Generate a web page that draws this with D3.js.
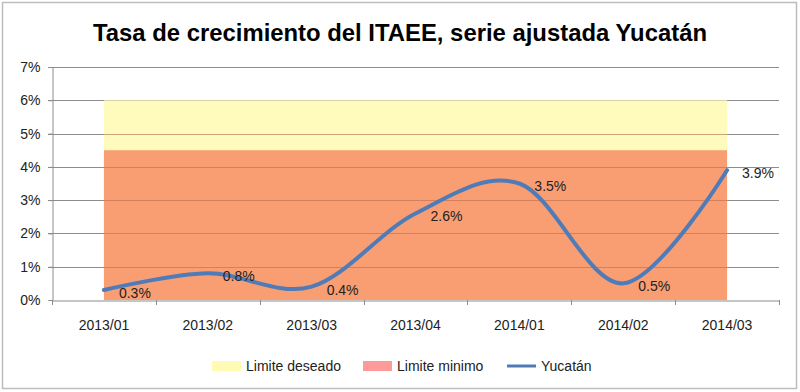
<!DOCTYPE html>
<html>
<head>
<meta charset="utf-8">
<script src="https://cdn.jsdelivr.net/npm/d3@7"></script>
<style>
html,body{margin:0;padding:0;background:#fff;}
svg text{font-family:"Liberation Sans",Arial,sans-serif;}
</style>
</head>
<body>
<svg id="chart" width="800" height="392"></svg>
<script>
const title = "Tasa de crecimiento del ITAEE, serie ajustada Yucatán";
const categories = ["2013/01","2013/02","2013/03","2013/04","2014/01","2014/02","2014/03"];
const yucatan = [0.3, 0.8, 0.4, 2.6, 3.5, 0.5, 3.9];
const limiteDeseado = [6, 6, 6, 6, 6, 6, 6];
const limiteMinimo = [4.5, 4.5, 4.5, 4.5, 4.5, 4.5, 4.5];
const yTicks = [0, 1, 2, 3, 4, 5, 6, 7];
const legendNames = ["Limite deseado", "Limite minimo", "Yucatán"];

const svg = d3.select("#chart");
const W = 800, H = 392;
const FS = 14;
const m = {left: 52, right: 21, top: 67, bottom: 92};
const x = d3.scaleBand().domain(categories).range([m.left, W - m.right]);
const y = d3.scaleLinear().domain([0, 7]).range([H - m.bottom, m.top]);
const cx = c => x(c) + x.bandwidth() / 2;

// outer border
svg.append("rect").attr("x", 2.5).attr("y", 2.5).attr("width", 794).attr("height", 386)
  .attr("fill", "#fff").attr("stroke", "#bdbdbd").attr("stroke-width", 1.5);

// title
const t = svg.append("text").attr("x", 400).attr("y", 41).attr("text-anchor", "middle")
  .attr("font-size", 23).attr("font-weight", "bold").attr("fill", "#000").text(title);
const tl = t.node().getComputedTextLength();
if (tl > 0) t.attr("font-size", 23 * 614 / tl);

// gridlines
svg.append("g").selectAll("line").data(yTicks.filter(d => d > 0)).join("line")
  .attr("x1", m.left - 4).attr("x2", W - m.right)
  .attr("y1", d => Math.round(y(d)) + 0.5).attr("y2", d => Math.round(y(d)) + 0.5)
  .attr("stroke", "#8c8c8c").attr("stroke-width", 1);

// bands (areas)
const bandArea = d3.area().x((d, i) => cx(categories[i])).y0(y(0)).y1(d => y(d));
svg.append("path").datum(limiteDeseado).attr("d", bandArea)
  .attr("fill", "#fffab0").attr("fill-opacity", 0.85);
svg.append("path").datum(limiteMinimo).attr("d", bandArea)
  .attr("fill", "#f8956b").attr("fill-opacity", 0.92);

// gridlines over areas (faint)
svg.append("g").selectAll("line").data(yTicks.filter(d => d > 0 && d < 6)).join("line")
  .attr("x1", cx(categories[0])).attr("x2", cx(categories[categories.length - 1]))
  .attr("y1", d => Math.round(y(d)) + 0.5).attr("y2", d => Math.round(y(d)) + 0.5)
  .attr("stroke", "#b86a4c").attr("stroke-opacity", 0.55).attr("stroke-width", 1);

// y axis
const yAxis = svg.append("g").attr("transform", `translate(${m.left + 0.5},0)`)
  .call(d3.axisLeft(y).tickValues(yTicks).tickFormat(d => d + "%").tickSize(4).tickPadding(8));
yAxis.select(".domain").attr("stroke", "#8c8c8c");
yAxis.selectAll(".tick line").attr("stroke", "#8c8c8c");
yAxis.selectAll("text").attr("font-size", FS).attr("fill", "#222")
  .attr("font-family", "'Liberation Sans',Arial,sans-serif");

// x axis
const xAxis = svg.append("g").attr("transform", `translate(0,${y(0) + 0.5})`)
  .call(d3.axisBottom(x).tickSize(0).tickPadding(20));
xAxis.select(".domain").attr("stroke", "#8c8c8c");
xAxis.selectAll("text").attr("font-size", FS).attr("fill", "#222")
  .attr("font-family", "'Liberation Sans',Arial,sans-serif");
// boundary ticks
const bounds = categories.map(c => x(c)).concat([x(categories[categories.length - 1]) + x.bandwidth()]);
svg.append("g").selectAll("line").data(bounds).join("line")
  .attr("x1", d => Math.round(d) + 0.5).attr("x2", d => Math.round(d) + 0.5)
  .attr("y1", y(0)).attr("y2", y(0) + 5).attr("stroke", "#8c8c8c");

// line
const line = d3.line().x((d, i) => cx(categories[i])).y(d => y(d)).curve(d3.curveCardinal.tension(0));
svg.append("path").datum(yucatan).attr("d", line).attr("fill", "none")
  .attr("stroke", "#4f7cb8").attr("stroke-width", 4).attr("stroke-linecap", "round");

// data labels
svg.append("g").selectAll("text").data(yucatan).join("text")
  .attr("x", (d, i) => cx(categories[i]) + 15).attr("y", d => y(d) + 3)
  .attr("dy", "0.35em").attr("font-size", FS).attr("fill", "#222")
  .text(d => d.toFixed(1) + "%");

// legend
const lg = svg.append("g");
const ly = 366;
lg.append("rect").attr("x", 212).attr("y", ly - 5).attr("width", 29).attr("height", 10).attr("fill", "#fffbb5");
lg.append("text").attr("x", 246).attr("y", ly).attr("dy", "0.35em").attr("font-size", FS).attr("fill", "#222").text(legendNames[0]);
lg.append("rect").attr("x", 363).attr("y", ly - 5).attr("width", 29).attr("height", 10).attr("fill", "#ff9a9a");
lg.append("text").attr("x", 397).attr("y", ly).attr("dy", "0.35em").attr("font-size", FS).attr("fill", "#222").text(legendNames[1]);
lg.append("line").attr("x1", 507).attr("x2", 536).attr("y1", ly).attr("y2", ly).attr("stroke", "#4f7cb8").attr("stroke-width", 3);
lg.append("text").attr("x", 541).attr("y", ly).attr("dy", "0.35em").attr("font-size", FS).attr("fill", "#222").text(legendNames[2]);
</script>
</body>
</html>
